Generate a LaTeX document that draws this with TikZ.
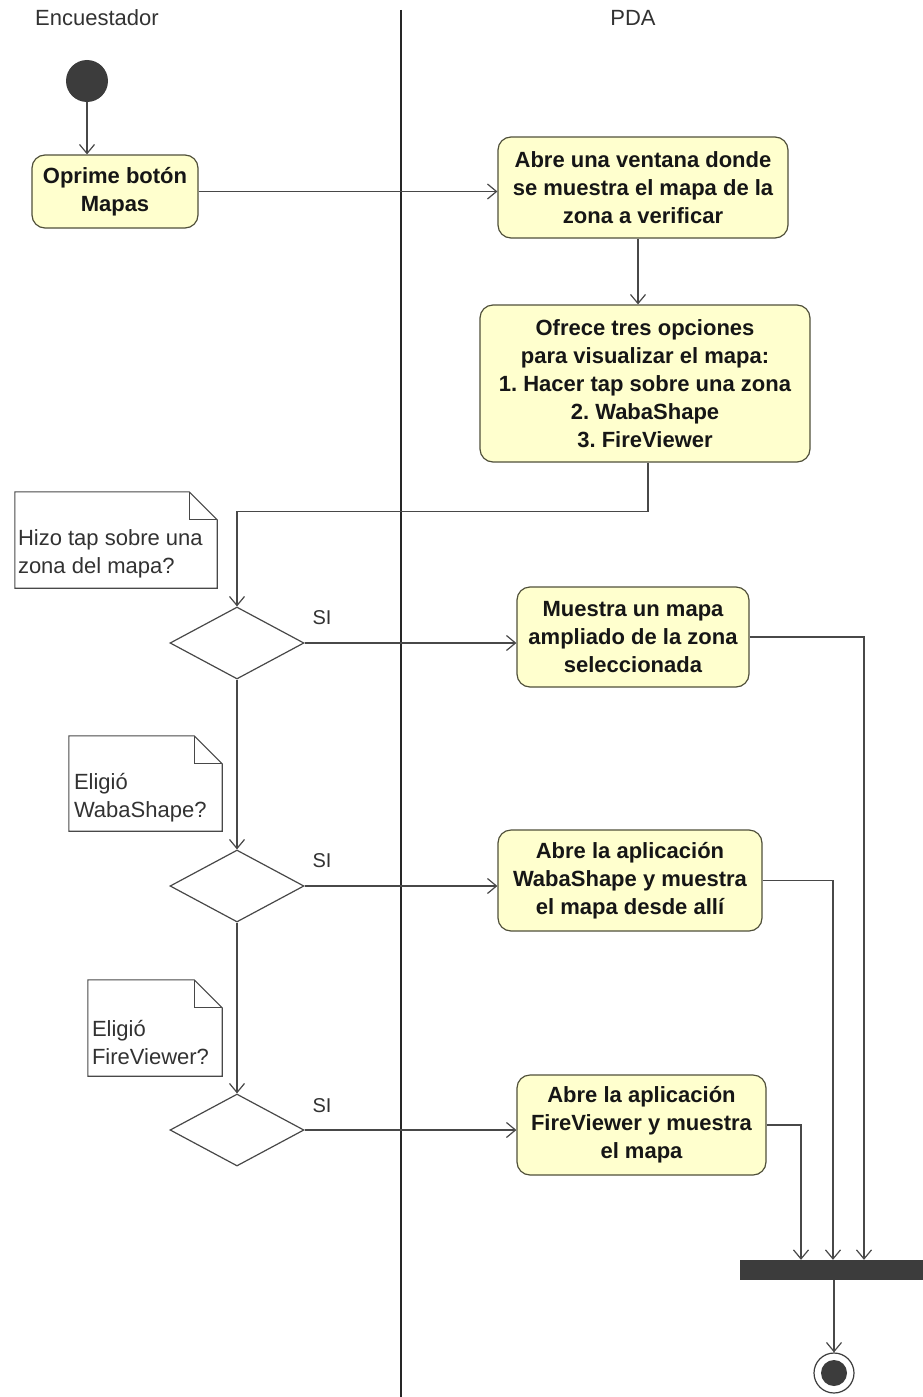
\documentclass[tikz,border=0pt]{standalone}
\usepackage{fontspec}
\setmainfont{Liberation Sans}
\usetikzlibrary{arrows.meta,shapes.geometric,calc}
\frenchspacing

\definecolor{actfill}{RGB}{255,255,206}
\definecolor{actline}{RGB}{80,80,58}
\definecolor{wire}{RGB}{72,72,72}
\definecolor{ink}{RGB}{22,22,22}
\definecolor{solid}{RGB}{60,60,60}
\definecolor{notefg}{RGB}{50,50,50}

\begin{document}
\begin{tikzpicture}[x=1pt,y=-1pt,
  action/.style={draw=actline, fill=actfill, line width=1.2pt, rounded corners=13pt,
    align=center, inner sep=0pt, text=ink, font=\fontsize{22}{28}\selectfont\bfseries},
  decision/.style={diamond, draw=wire, fill=white, line width=1.2pt, aspect=1.86,
    minimum width=134pt, minimum height=72pt, inner sep=0pt},
  noteshape/.style={inner sep=0pt},
  noteline/.style={draw=wire, line width=1.1pt},
  notetext/.style={align=left, inner sep=0pt, text=notefg, font=\fontsize{22}{28}\selectfont},
  lane/.style={inner sep=0pt, text=notefg, font=\fontsize{22}{26}\selectfont},
  guard/.style={inner sep=0pt, text=notefg, font=\fontsize{20}{24}\selectfont},
  flow/.style={draw=wire, line width=1.2pt, -{Straight Barb[length=9pt,width=15pt]}},
  link/.style={draw=wire, line width=1.2pt},
  divider/.style={draw=black!85, line width=1.3pt},
  blob/.style={circle, fill=solid, inner sep=0pt},
]
\useasboundingbox (0,0) rectangle (922,1397);

% swimlanes
\node[lane] (laneA) at (97,18) {Encuestador};
\node[lane] (laneB) at (633,18) {PDA};
\coordinate (divtop) at (401,10);
\coordinate (divbot) at (401,1397);
\draw[divider] (divtop) -- (divbot);

% start and first actions
\node[blob, minimum size=42pt] (start) at (87,81) {};
\node[action, minimum width=166pt, minimum height=73pt] (oprime) at (115,191.5)
  {Oprime botón\\Mapas};
\node[action, minimum width=290pt, minimum height=101pt] (abre) at (643,187.5)
  {Abre una ventana donde\\se muestra el mapa de la\\zona a verificar};
\node[action, minimum width=330pt, minimum height=157pt] (ofrece) at (645,383.5)
  {Ofrece tres opciones\\para visualizar el mapa:\\1. Hacer tap sobre una zona\\2. WabaShape\\3. FireViewer};

% decisions
\node[decision] (d1) at (237,643) {};
\node[decision] (d2) at (237,886) {};
\node[decision] (d3) at (237,1130) {};

\node[guard] (g1) at (322,618) {SI};
\node[guard] (g2) at (322,861) {SI};
\node[guard] (g3) at (322,1106) {SI};

% branch actions
\node[action, minimum width=232pt, minimum height=100pt] (muestra) at (633,637)
  {Muestra un mapa\\ampliado de la zona\\seleccionada};
\node[action, minimum width=264pt, minimum height=101pt] (waba) at (630,880.5)
  {Abre la aplicación\\WabaShape y muestra\\el mapa desde allí};
\node[action, minimum width=249pt, minimum height=100pt] (fire) at (641.5,1125)
  {Abre la aplicación\\FireViewer y muestra\\el mapa};

% notes with folded corner
\node[noteshape, minimum width=202pt, minimum height=96pt] (n1) at (116,540) {};
\node[noteshape, minimum width=153pt, minimum height=95pt] (n2) at (145.5,783.5) {};
\node[noteshape, minimum width=134pt, minimum height=96pt] (n3) at (155,1028) {};
\foreach \n in {n1,n2,n3}{
  \draw[noteline, fill=white] (\n.north west) -- ($(\n.north east)+(-28,0)$)
    -- ($(\n.north east)+(0,28)$) -- (\n.south east) -- (\n.south west) -- cycle;
  \draw[noteline] ($(\n.north east)+(-28,0)$) |- ($(\n.north east)+(0,28)$);
}
\node[notetext, anchor=west] (n1t) at ($(n1.west)+(3,14)$) {Hizo tap sobre una\\zona del mapa?};
\node[notetext, anchor=west] (n2t) at ($(n2.west)+(5,14)$) {Eligió\\WabaShape?};
\node[notetext, anchor=west] (n3t) at ($(n3.west)+(4,14)$) {Eligió\\FireViewer?};

% join bar and final node
\node[fill=solid, inner sep=0pt, minimum width=184pt, minimum height=20pt] (bar) at (832,1270) {};
\node[circle, draw=solid, fill=white, line width=1.2pt, inner sep=0pt, minimum size=40pt] (final) at (834,1373) {};
\node[blob, minimum size=26pt] (finaldot) at (final.center) {};

% control flow
\draw[flow] (start.south) -- (start.south |- oprime.north);
\draw[flow] (oprime.east) -- (oprime.east -| abre.west);
\draw[flow] (abre.south -| 638,0) -- (ofrece.north -| 638,0);
\draw[flow] (ofrece.south -| 648,0) -- ++(0,49) -| (d1.north);

\draw[flow] (d1.east) -- (d1.east -| muestra.west);
\draw[flow] (d2.east) -- (d2.east -| waba.west);
\draw[flow] (d3.east) -- (d3.east -| fire.west);
\draw[flow] (d1.south) -- (d2.north);
\draw[flow] (d2.south) -- (d3.north);

\draw[flow] (muestra.east) -| ($(bar.north)+(32,0)$);
\draw[flow] (waba.east) -| ($(bar.north)+(1,0)$);
\draw[flow] (fire.east) -| ($(bar.north)+(-31,0)$);
\draw[flow] (final.north |- bar.south) -- (final.north);
\end{tikzpicture}
\end{document}
